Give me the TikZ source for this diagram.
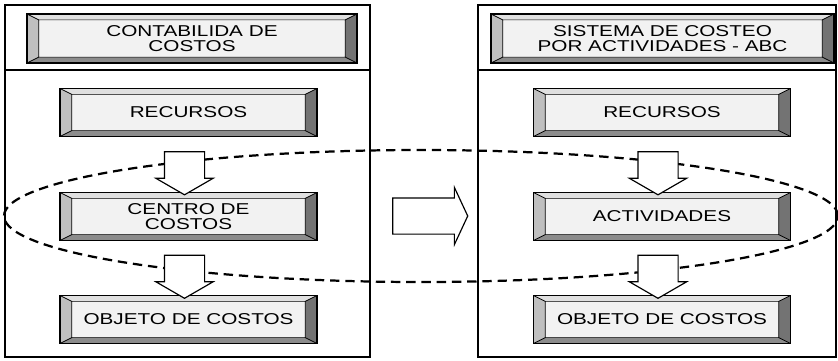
\documentclass[tikz,border=0pt]{standalone}
\usepackage{fontspec}
\setmainfont[FakeStretch=1.32]{Liberation Sans}
\usetikzlibrary{calc,shapes.arrows,shapes.geometric}

\tikzset{
  panel/.style={draw,line width=1.5pt,fill=white,inner sep=0pt},
  bevel/.style={draw,line width=1pt,fill=black!5,align=center,inner sep=0pt,
    path picture={
      \coordinate (bNW) at (path picture bounding box.north west);
      \coordinate (bSE) at (path picture bounding box.south east);
      \coordinate (bNE) at (bSE |- bNW);
      \coordinate (bSW) at (bNW |- bSE);
      \coordinate (iNW) at ([shift={(10pt,-5pt)}]bNW);
      \coordinate (iNE) at ([shift={(-10pt,-5pt)}]bNE);
      \coordinate (iSE) at ([shift={(-10pt,5pt)}]bSE);
      \coordinate (iSW) at ([shift={(10pt,5pt)}]bSW);
      \fill[black!12] (bNW) -- (bNE) -- (iNE) -- (iNW) -- cycle;
      \fill[black!25] (bNW) -- (iNW) -- (iSW) -- (bSW) -- cycle;
      \fill[black!55] (bNE) -- (iNE) -- (iSE) -- (bSE) -- cycle;
      \fill[black!45] (bSW) -- (iSW) -- (iSE) -- (bSE) -- cycle;
      \draw[line width=.6pt] (iNW) rectangle (iSE) (bNW) -- (iNW) (bNE) -- (iNE)
        (bSE) -- (iSE) (bSW) -- (iSW);
    }},
  blockarrow/.style={single arrow,draw,line width=1pt,fill=white,inner xsep=0pt,
    text height=0pt,text depth=0pt},
  downarrow/.style={blockarrow,rotate=-90,inner ysep=.585cm,minimum height=1.29cm,
    single arrow head extend=.255cm,single arrow tip angle=120},
  rightarrow/.style={blockarrow,inner ysep=.525cm,minimum height=2.25cm,
    single arrow head extend=.315cm,single arrow tip angle=130},
  grupo/.style={ellipse,draw,dash pattern=on 8pt off 5pt,line width=1.9pt,
    inner sep=0pt,minimum width=25.02cm,minimum height=3.96cm}
}

\begin{document}
\begin{tikzpicture}[x=0.03cm,y=-0.03cm,font=\fontsize{13.4}{12.8}\selectfont]
\useasboundingbox (0,0) rectangle (838,360);
% the two systems
\node[panel,minimum width=10.95cm,minimum height=10.56cm] (panL) at (187.5,181) {};
\node[panel,minimum width=10.74cm,minimum height=10.56cm] (panR) at (657,181) {};
\coordinate (div) at (0,70);
\draw[line width=1.5pt] (panL.west |- div) -- (panL.east |- div);
\draw[line width=1.5pt] (panR.west |- div) -- (panR.east |- div);
% grouping of the middle level
\node[grupo] (zona) at (421,216) {};
% left side
\node[bevel,minimum width=9.9cm,minimum height=1.47cm] (titL) at (192,38.5) {CONTABILIDA DE\\COSTOS};
\node[bevel,minimum width=7.71cm,minimum height=1.44cm] (recL) at (188.5,112.5) {RECURSOS};
\node[bevel,minimum width=7.71cm,minimum height=1.44cm] (cenL) at (188.5,216.5) {CENTRO DE\\COSTOS};
\node[bevel,minimum width=7.71cm,minimum height=1.44cm] (objL) at (188.5,319.5) {OBJETO DE COSTOS};
% right side
\node[bevel,minimum width=10.29cm,minimum height=1.47cm] (titR) at (662.5,38.5) {SISTEMA DE COSTEO\\POR ACTIVIDADES - ABC};
\node[bevel,minimum width=7.71cm,minimum height=1.44cm] (recR) at (662,112.5) {RECURSOS};
\node[bevel,minimum width=7.71cm,minimum height=1.44cm] (actR) at (662,216.5) {ACTIVIDADES};
\node[bevel,minimum width=7.71cm,minimum height=1.44cm] (objR) at (662,319.5) {OBJETO DE COSTOS};
% flow arrows
\node[downarrow] (a1) at ($(recL.south)!.5!(cenL.north)+(-4,3)$) {};
\node[downarrow] (a2) at ($(cenL.south)!.5!(objL.north)+(-4,3)$) {};
\node[downarrow] (a3) at ($(recR.south)!.5!(actR.north)+(-4,3)$) {};
\node[downarrow] (a4) at ($(actR.south)!.5!(objR.north)+(-4,3)$) {};
\node[rightarrow] (a5) at ($(panL.east)!.5!(panR.west)+(2,35)$) {};
\end{tikzpicture}
\end{document}
